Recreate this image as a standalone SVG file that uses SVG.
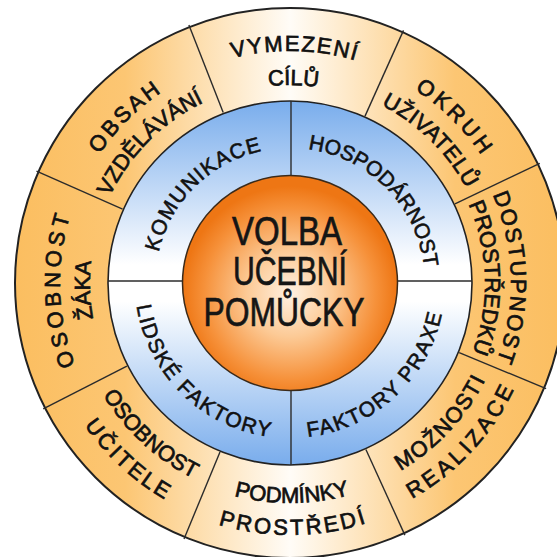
<svg xmlns="http://www.w3.org/2000/svg" width="557" height="557" viewBox="0 0 557 557">
<style>
  .t { font-family: "Liberation Sans", Arial, sans-serif; font-size: 22px; fill: #111; stroke: #111; stroke-width: 0.7; text-anchor: middle; }
  .b { font-family: "Liberation Sans", Arial, sans-serif; font-size: 21px; fill: #111; stroke: #111; stroke-width: 0.6; text-anchor: middle; }
  .c { font-family: "Liberation Sans", Arial, sans-serif; font-size: 40px; fill: #151515; stroke: #151515; stroke-width: 0.7; text-anchor: middle; }
  .div { stroke: #2b2b2b; stroke-width: 1.4; fill: none; }
</style>
<defs>
  <linearGradient id="ringOuter" gradientUnits="userSpaceOnUse" x1="15" y1="0" x2="565" y2="0">
    <stop offset="0" stop-color="#fbbe60"/>
    <stop offset="0.2" stop-color="#fcc673"/>
    <stop offset="0.5" stop-color="#fffcf7"/>
    <stop offset="0.8" stop-color="#fcc673"/>
    <stop offset="1" stop-color="#fbbe60"/>
  </linearGradient>
  <linearGradient id="ringBlue" gradientUnits="userSpaceOnUse" x1="0" y1="100" x2="0" y2="466">
    <stop offset="0" stop-color="#78acec"/>
    <stop offset="0.45" stop-color="#ffffff"/>
    <stop offset="0.55" stop-color="#ffffff"/>
    <stop offset="1" stop-color="#78acec"/>
  </linearGradient>
  <radialGradient id="core" cx="0.5" cy="0.55" r="0.5">
    <stop offset="0" stop-color="#fff1e2"/>
    <stop offset="0.4" stop-color="#fcca96"/>
    <stop offset="0.8" stop-color="#f6913a"/>
    <stop offset="1" stop-color="#ee7614"/>
  </radialGradient>
  <path id="t232" d="M89.08,167 A232,232 0 0 1 490.92,167"/>
  <path id="t230" d="M90.81,168 A230,230 0 0 1 489.19,168"/>
  <path id="t221" d="M98.61,172.5 A221,221 0 0 1 481.39,172.5"/>
  <path id="t200" d="M116.79,183 A200,200 0 0 1 463.21,183"/>
  <path id="t198" d="M118.53,184 A198,198 0 0 1 461.47,184"/>
  <path id="t195" d="M121.13,185.5 A195,195 0 0 1 458.87,185.5"/>
  <path id="t135" d="M173.09,215.5 A135,135 0 0 1 406.91,215.5"/>
  <path id="b218" d="M101.21,392 A218,218 0 0 0 478.79,392"/>
  <path id="b220" d="M99.47,393 A220,220 0 0 0 480.53,393"/>
  <path id="b248" d="M75.23,407 A248,248 0 0 0 504.77,407"/>
  <path id="b250" d="M73.49,408 A250,250 0 0 0 506.51,408"/>
  <path id="b252" d="M71.76,409 A252,252 0 0 0 508.24,409"/>
  <path id="b155" d="M155.77,360.5 A155,155 0 0 0 424.23,360.5"/>
</defs>

<circle cx="290" cy="283" r="275" fill="url(#ringOuter)" stroke="#222" stroke-width="2"/>
<circle cx="290" cy="283" r="182" fill="url(#ringBlue)" stroke="#222" stroke-width="1.6"/>

<g id="connectors">
  <line class="div" x1="223.2" y1="112.6" x2="188.9" y2="25.1"/>
  <line class="div" x1="365.0" y1="116.1" x2="403.5" y2="30.4"/>
  <line class="div" x1="455.0" y1="203.9" x2="539.8" y2="163.3"/>
  <line class="div" x1="459.2" y1="352.7" x2="546.1" y2="388.6"/>
  <line class="div" x1="365.9" y1="449.5" x2="404.9" y2="535.1"/>
  <line class="div" x1="220.0" y1="452.1" x2="184.0" y2="538.9"/>
  <line class="div" x1="126.9" y1="366.1" x2="43.2" y2="408.8"/>
  <line class="div" x1="122.6" y1="209.2" x2="36.5" y2="171.2"/>
  <line class="div" x1="291" y1="101" x2="291" y2="465"/>
  <line class="div" x1="108" y1="281" x2="472" y2="281"/>
</g>

<g id="center">
  <circle cx="290" cy="283" r="107.5" fill="url(#core)" stroke="#3a2a1a" stroke-width="1.5"/>
  <text class="c" x="287" y="245" textLength="110" lengthAdjust="spacingAndGlyphs">VOLBA</text>
  <text class="c" x="290" y="285" textLength="114" lengthAdjust="spacingAndGlyphs">UČEBNÍ</text>
  <text class="c" x="284" y="326" textLength="161" lengthAdjust="spacingAndGlyphs">POMŮCKY</text>
</g>

<g id="komunikace">
  <text class="b" transform="rotate(-44.5 290 283)"><textPath href="#t135" startOffset="50%" textLength="152">KOMUNIKACE</textPath></text>
</g>
<g id="hospodarnost">
  <text class="b" transform="rotate(45.5 290 283)"><textPath href="#t135" startOffset="50%" textLength="178">HOSPODÁRNOST</textPath></text>
</g>
<g id="lidske-faktory">
  <text class="b" transform="rotate(44.5 290 283)"><textPath href="#b155" startOffset="50%" textLength="200">LIDSKÉ FAKTORY</textPath></text>
</g>
<g id="faktory-praxe">
  <text class="b" transform="rotate(-42.5 290 283)"><textPath href="#b155" startOffset="50%" textLength="194">FAKTORY PRAXE</textPath></text>
</g>

<g id="vymezeni-cilu">
  <text class="t" transform="rotate(1 290 283)"><textPath href="#t232" startOffset="50%" textLength="124">VYMEZENÍ</textPath></text>
  <text class="t" transform="rotate(1 290 283)"><textPath href="#t198" startOffset="50%" textLength="50">CÍLŮ</textPath></text>
</g>
<g id="okruh-uzivatelu">
  <text class="t" transform="rotate(44.5 290 283)"><textPath href="#t230" startOffset="50%" textLength="94">OKRUH</textPath></text>
  <text class="t" transform="rotate(44.5 290 283)"><textPath href="#t200" startOffset="50%" textLength="121">UŽIVATELŮ</textPath></text>
</g>
<g id="dostupnost-prostredku">
  <text class="t" transform="rotate(88.5 290 283)"><textPath href="#t221" startOffset="50%" textLength="170">DOSTUPNOST</textPath></text>
  <text class="t" transform="rotate(88.5 290 283)"><textPath href="#t195" startOffset="50%" textLength="152">PROSTŘEDKŮ</textPath></text>
</g>
<g id="moznosti-realizace">
  <text class="t" transform="rotate(-47 290 283)"><textPath href="#b218" startOffset="50%" textLength="126">MOŽNOSTI</textPath></text>
  <text class="t" transform="rotate(-47 290 283)"><textPath href="#b248" startOffset="50%" textLength="152">REALIZACE</textPath></text>
</g>
<g id="podminky-prostredi">
  <text class="t" transform="rotate(-0.5 290 283)"><textPath href="#b220" startOffset="50%" textLength="117">PODMÍNKY</textPath></text>
  <text class="t" transform="rotate(-0.5 290 283)"><textPath href="#b252" startOffset="50%" textLength="150">PROSTŘEDÍ</textPath></text>
</g>
<g id="osobnost-ucitele">
  <text class="t" transform="rotate(42.7 290 283)"><textPath href="#b218" startOffset="50%" textLength="125">OSOBNOST</textPath></text>
  <text class="t" transform="rotate(42.7 290 283)"><textPath href="#b250" startOffset="50%" textLength="110">UČITELE</textPath></text>
</g>
<g id="osobnost-zaka">
  <text class="t" transform="rotate(-92 290 283)"><textPath href="#t230" startOffset="50%" textLength="152">OSOBNOST</textPath></text>
  <text class="t" transform="rotate(-92 290 283)"><textPath href="#t200" startOffset="50%" textLength="58">ŽÁKA</textPath></text>
</g>
<g id="obsah-vzdelavani">
  <text class="t" transform="rotate(-45 290 283)"><textPath href="#t230" startOffset="50%" textLength="88">OBSAH</textPath></text>
  <text class="t" transform="rotate(-45 290 283)"><textPath href="#t200" startOffset="50%" textLength="136">VZDĚLÁVÁNÍ</textPath></text>
</g>
</svg>
